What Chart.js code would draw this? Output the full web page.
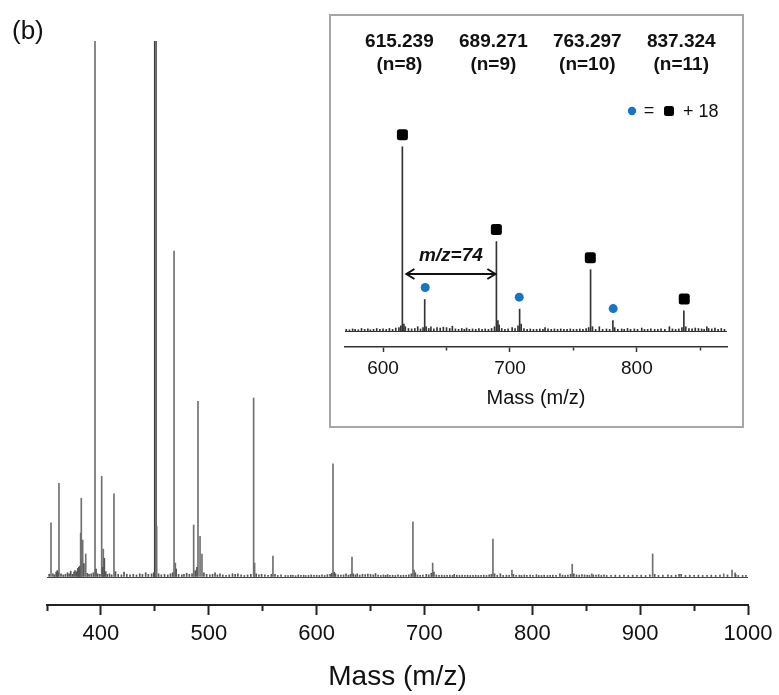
<!DOCTYPE html>
<html>
<head>
<meta charset="utf-8">
<script src="https://cdn.jsdelivr.net/npm/chart.js@4.4.0/dist/chart.umd.min.js"></script>
<style>
  html, body { margin: 0; padding: 0; background: #fff; }
  #wrap { position: relative; width: 779px; height: 695px; }
  #mainChart { position: absolute; left: 0; top: 0; }
  #insetBox { position: absolute; left: 329px; top: 14px; width: 415px; height: 414px; box-sizing: border-box; border: 2px solid #a6a6a6; background: #fff; }
  #insetChart { display: block; }
</style>
</head>
<body>
<div id="wrap">
  <canvas id="mainChart" width="779" height="695"></canvas>
  <div id="insetBox"><canvas id="insetChart" width="411" height="410"></canvas></div>
</div>
<script>
Chart.defaults.font.family = 'Arial, "Liberation Sans", sans-serif';
Chart.defaults.color = '#111';

// main peaks (m/z, relative intensity %)
var peakMass = [353.7, 361.1, 381.2, 381.8, 383.1, 385.9, 394.5, 400.7, 402.2, 412.1,
                450.4, 451.7, 467.8, 469.0, 486.0, 490.0, 491.9, 493.7, 541.6, 542.5,
                559.5, 615.2, 632.8, 689.3, 690.5, 707.6, 763.5, 781.1, 837.0, 855.1,
                911.6, 977.5, 985.2, 988.0];
var peakInt = [10.1, 17.5, 8.2, 14.7, 6.9, 4.3, 100, 18.8, 5.2, 15.5,
               100, 9.5, 60.8, 2.6, 9.7, 32.8, 7.6, 4.3, 33.4, 2.6,
               3.9, 21.1, 3.7, 10.3, 1.3, 2.6, 7.1, 1.3, 2.4, 0.6,
               4.3, 0.6, 1.3, 0.8];
var basePeak = 450.4;

// small baseline peaks
var noiseMass = [352, 355.5, 357, 358.5, 359.5, 360.3, 363, 365, 367, 369, 370.5, 372, 373.5, 375, 376, 377.5,
  378.5, 379.5, 380.3, 384.2, 387.5, 389, 391, 393, 395.5, 397, 399, 401.5, 403.2, 404.5, 406, 408, 410,
  413.5, 416, 419, 421.4, 424, 427, 430, 433, 436, 438.5, 441.5, 444, 447, 449, 453.5, 456, 459, 462,
  464.5, 466.5, 469.8, 472, 475, 477, 479.5, 482, 484.5, 487.5, 489, 495.5, 498,
  501, 503.5, 505.8, 508, 510.4, 513, 516, 519, 522, 524.5, 527, 530, 533, 536, 539, 544, 546.5, 549,
  552, 555, 558, 561.4, 564, 567,
  571, 573.5, 576, 578, 580.5, 583, 585.5, 588, 590, 592.5, 595, 597.5, 600, 602.5, 605, 607.5, 610,
  612.5, 614, 616.4, 617.5, 620, 622.5, 625, 627.3, 629.5, 631.5, 634, 636, 637.7, 640, 642.5, 645,
  647.5, 650, 652.5, 654.6, 657, 659.5, 662, 664, 665.8, 668, 670.5, 673, 675.5, 678, 680.5, 683,
  685.5, 687.8, 691.5, 693.5, 696, 698.5, 701.7, 704, 706.3, 708.8, 711, 713.5, 716, 718.5, 721,
  723.5, 726, 727.6, 730, 732.5, 735, 737.5, 740, 742.5, 745, 747.5, 750, 752.5, 755, 757.5, 760,
  762, 765, 767.5, 770.4, 773, 776, 778.5, 782.5, 785, 788, 790, 792.6, 795, 798, 800.5, 803.8, 806,
  808.5, 811, 814, 816.5, 819, 822, 825.6, 828, 830.5, 833, 835.5, 838.5, 841, 843.5, 846, 848.5,
  851, 853, 856.5, 859, 861.5, 864, 866.5, 869,
  873, 877, 881, 885, 889, 893, 897, 901, 905, 909, 913.5, 917, 921, 925.8, 929, 933, 936.1, 938,
  942, 946, 950, 954, 958, 962, 966, 970, 974, 981, 988.5, 991, 995, 998];
var noiseInt = [0.5, 0.6, 0.4, 0.9, 1.2, 0.8, 0.6, 0.4, 0.5, 0.8, 0.6, 1.1, 0.5, 0.9, 1.2, 1.0,
  1.6, 1.8, 2.0, 2.5, 0.7, 0.5, 0.6, 0.8, 1.5, 0.6, 0.5, 1.8, 3.5, 1.0, 0.5, 0.6, 0.4,
  1.0, 0.5, 0.4, 0.9, 0.5, 0.4, 0.5, 0.4, 0.6, 0.5, 0.8, 0.5, 0.6, 0.8, 0.6, 0.4, 0.5, 0.4,
  0.6, 0.8, 1.5, 0.5, 0.4, 0.5, 0.7, 0.5, 0.6, 1.2, 1.8, 0.8, 0.5,
  0.4, 0.5, 0.8, 0.4, 0.6, 0.4, 0.3, 0.4, 0.6, 0.5, 0.6, 0.4, 0.3, 0.4, 0.5, 0.6, 0.4, 0.5,
  0.4, 0.3, 0.5, 0.5, 0.3, 0.4,
  0.3, 0.25, 0.35, 0.3, 0.25, 0.4, 0.3, 0.35, 0.25, 0.3, 0.4, 0.3, 0.35, 0.3, 0.4, 0.3, 0.45,
  0.5, 0.7, 0.9, 0.6, 0.4, 0.35, 0.4, 0.6, 0.35, 0.5, 0.6, 0.4, 0.6, 0.35, 0.5, 0.45,
  0.55, 0.5, 0.4, 0.65, 0.35, 0.3, 0.4, 0.3, 0.45, 0.3, 0.35, 0.3, 0.4, 0.3, 0.35, 0.3,
  0.4, 0.6, 0.8, 0.4, 0.3, 0.35, 0.5, 0.4, 0.7, 0.9, 0.4, 0.3, 0.35, 0.3, 0.3,
  0.35, 0.3, 0.5, 0.35, 0.3, 0.35, 0.3, 0.35, 0.3, 0.3, 0.35, 0.3, 0.3, 0.35, 0.3, 0.4,
  0.5, 0.6, 0.3, 0.6, 0.3, 0.35, 0.3, 0.5, 0.3, 0.35, 0.3, 0.4, 0.3, 0.35, 0.3, 0.45, 0.3,
  0.3, 0.35, 0.3, 0.3, 0.35, 0.3, 0.6, 0.35, 0.3, 0.35, 0.5, 0.6, 0.4, 0.35, 0.45, 0.4,
  0.35, 0.3, 0.4, 0.35, 0.45, 0.3, 0.4, 0.3,
  0.3, 0.35, 0.3, 0.35, 0.3, 0.35, 0.3, 0.35, 0.3, 0.4, 0.5, 0.3, 0.35, 0.4, 0.3, 0.35, 0.5, 0.5,
  0.3, 0.35, 0.3, 0.35, 0.3, 0.3, 0.35, 0.3, 0.35, 0.4, 0.5, 0.3, 0.3, 0.3];

// axis ticks
var mainTicks = [350, 400, 450, 500, 550, 600, 650, 700, 750, 800, 850, 900, 950, 1000];
var insetTicks = [600, 650, 700, 750, 800, 850];

// labelled series in the inset
var seriesMass = [615.239, 689.271, 763.297, 837.324];
var seriesN = [8, 9, 10, 11];
var waterMass = [633.2, 707.3, 781.3];

var FONT = 'Arial, "Liberation Sans", sans-serif';

function toPoints(xs, ys) {
    return xs.map(function (x, i) { return { x: x, y: ys[i] }; });
}

function nearestInt(m) {
    var best = 0;
    for (var i = 1; i < peakMass.length; i++) {
        if (Math.abs(peakMass[i] - m) < Math.abs(peakMass[best] - m)) best = i;
    }
    return peakInt[best];
}

function squarePath(ctx, cx, cy, s, r) {
    var x = cx - s / 2, y = cy - s / 2;
    ctx.beginPath();
    ctx.moveTo(x + r, y);
    ctx.lineTo(x + s - r, y);
    ctx.quadraticCurveTo(x + s, y, x + s, y + r);
    ctx.lineTo(x + s, y + s - r);
    ctx.quadraticCurveTo(x + s, y + s, x + s - r, y + s);
    ctx.lineTo(x + r, y + s);
    ctx.quadraticCurveTo(x, y + s, x, y + s - r);
    ctx.lineTo(x, y + r);
    ctx.quadraticCurveTo(x, y, x + r, y);
    ctx.closePath();
}

var panelLabel = {
    id: 'panelLabel',
    afterDraw: function (chart) {
        var ctx = chart.ctx;
        ctx.save();
        ctx.fillStyle = '#111';
        ctx.font = '26px ' + FONT;
        ctx.textBaseline = 'middle';
        ctx.fillText('(b)', 12, 32);
        ctx.restore();
    }
};

var insetNotes = {
    id: 'insetNotes',
    afterDatasetsDraw: function (chart) {
        var ctx = chart.ctx, xs = chart.scales.x, ys = chart.scales.y;
        ctx.save();
        ctx.textAlign = 'center';
        ctx.textBaseline = 'middle';
        ctx.fillStyle = '#111';
        // black squares and labels
        seriesMass.forEach(function (m, i) {
            var px = xs.getPixelForValue(m);
            var py = ys.getPixelForValue(nearestInt(m)) - 12;
            ctx.fillStyle = '#000';
            squarePath(ctx, px, py, 11, 2.5);
            ctx.fill();
            ctx.fillStyle = '#111';
            ctx.font = 'bold 19px ' + FONT;
            ctx.fillText(m.toFixed(3), px - 3, 26);
            ctx.fillText('(n=' + seriesN[i] + ')', px - 3, 49);
        });
        // blue circles
        ctx.fillStyle = '#1874c4';
        waterMass.forEach(function (m) {
            var px = xs.getPixelForValue(m);
            var py = ys.getPixelForValue(nearestInt(m)) - 12;
            ctx.beginPath();
            ctx.arc(px, py, 4.5, 0, Math.PI * 2);
            ctx.fill();
        });
        // legend
        ctx.beginPath();
        ctx.arc(301, 95, 4.2, 0, Math.PI * 2);
        ctx.fill();
        ctx.fillStyle = '#111';
        ctx.font = '18px ' + FONT;
        ctx.fillText('=', 318, 95);
        ctx.fillStyle = '#000';
        squarePath(ctx, 338, 95, 10, 2.5);
        ctx.fill();
        ctx.fillStyle = '#111';
        ctx.textAlign = 'left';
        ctx.fillText('+ 18', 352, 96);
        // double arrow between n=8 and n=9
        var x1 = xs.getPixelForValue(seriesMass[0]) + 4;
        var x2 = xs.getPixelForValue(seriesMass[1]) - 1;
        var ay = 258;
        ctx.strokeStyle = '#111';
        ctx.lineWidth = 2;
        ctx.beginPath();
        ctx.moveTo(x1, ay); ctx.lineTo(x2, ay);
        ctx.moveTo(x1 + 8, ay - 5); ctx.lineTo(x1, ay); ctx.lineTo(x1 + 8, ay + 5);
        ctx.moveTo(x2 - 8, ay - 5); ctx.lineTo(x2, ay); ctx.lineTo(x2 - 8, ay + 5);
        ctx.stroke();
        ctx.textAlign = 'center';
        ctx.font = 'italic bold 19px ' + FONT;
        ctx.fillText('m/z=' + Math.round(seriesMass[1] - seriesMass[0]), (x1 + x2) / 2, ay - 18);
        ctx.restore();
    }
};

var mainChart = new Chart(document.getElementById('mainChart'), {
    type: 'bar',
    data: {
        datasets: [
            { data: toPoints(noiseMass, noiseInt), backgroundColor: '#555', barThickness: 1, grouped: false },
            { data: toPoints(peakMass, peakInt), backgroundColor: '#707070', barThickness: 1, grouped: false },
            {
                data: toPoints(peakMass, peakInt).filter(function (p) { return p.x === basePeak; }),
                backgroundColor: '#000', barThickness: 2, grouped: false
            }
        ]
    },
    options: {
        responsive: false,
        animation: false,
        layout: { padding: { left: 47, right: 31, top: 41, bottom: 0 } },
        plugins: { legend: { display: false }, tooltip: { enabled: false } },
        scales: {
            x: {
                type: 'linear', min: 350, max: 1000, offset: false,
                afterBuildTicks: function (s) { s.ticks = mainTicks.map(function (v) { return { value: v }; }); },
                afterFit: function (s) { s.height = 90; },
                ticks: {
                    autoSkip: false, maxRotation: 0, padding: 6, color: '#111', font: { size: 22 },
                    callback: function (v) { return v % 100 === 0 ? String(v) : ''; }
                },
                grid: {
                    drawOnChartArea: false, offset: false, tickLength: 10, tickWidth: 2, tickColor: '#222',
                    tickBorderDash: function (c) { return c.tick && c.tick.value % 100 !== 0 ? [5, 30] : []; }
                },
                border: { color: '#222', width: 2 },
                title: { display: true, text: 'Mass (m/z)', color: '#111', font: { size: 28 }, padding: { top: 0, bottom: 1 } }
            },
            y: {
                min: -5.22, max: 100,
                afterBuildTicks: function (s) { s.ticks = [{ value: 0 }]; },
                afterFit: function (s) { s.width = 0; },
                ticks: { display: false },
                grid: { drawTicks: false, color: '#444', lineWidth: 1 },
                border: { display: false }
            }
        }
    },
    plugins: [panelLabel]
});

var insetChart = new Chart(document.getElementById('insetChart'), {
    type: 'bar',
    data: {
        datasets: [
            { data: toPoints(noiseMass, noiseInt), backgroundColor: '#333', barThickness: 1, grouped: false },
            { data: toPoints(peakMass, peakInt), backgroundColor: '#333', barThickness: 1, grouped: false }
        ]
    },
    options: {
        responsive: false,
        animation: false,
        layout: { padding: { left: 14, right: 15, top: 14, bottom: 0 } },
        plugins: { legend: { display: false }, tooltip: { enabled: false } },
        scales: {
            x: {
                type: 'linear', min: 570, max: 871, offset: false,
                afterBuildTicks: function (s) { s.ticks = insetTicks.map(function (v) { return { value: v }; }); },
                afterFit: function (s) { s.height = 79; },
                ticks: {
                    autoSkip: false, maxRotation: 0, padding: 5, color: '#111', font: { size: 19 },
                    callback: function (v) { return v % 100 === 0 ? String(v) : ''; }
                },
                grid: {
                    drawOnChartArea: false, offset: false, tickLength: 5, tickWidth: 1.5, tickColor: '#333',
                    tickBorderDash: function (c) { return c.tick && c.tick.value % 100 !== 0 ? [3, 30] : []; }
                },
                border: { color: '#333', width: 1.5 },
                title: { display: true, text: 'Mass (m/z)', color: '#111', font: { size: 20 }, padding: { top: 0, bottom: 16 } }
            },
            y: {
                min: -1.71, max: 34.4,
                afterBuildTicks: function (s) { s.ticks = [{ value: 0 }]; },
                afterFit: function (s) { s.width = 0; },
                ticks: { display: false },
                grid: { drawTicks: false, color: '#333', lineWidth: 1 },
                border: { display: false }
            }
        }
    },
    plugins: [insetNotes]
});
</script>
</body>
</html>
